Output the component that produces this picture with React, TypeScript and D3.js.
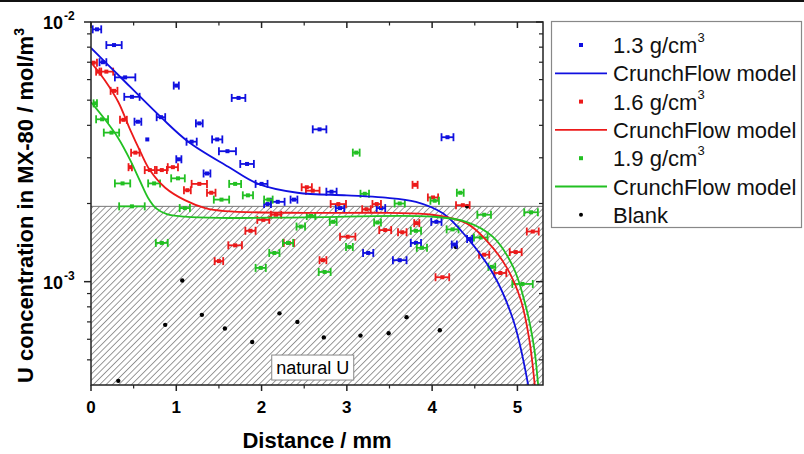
import React from 'react'
import * as d3 from 'd3'

// [distance mm, concentration mol/m3, x error mm]
const blue13: [number, number, number][] = [
  [0.07, 9.37e-3, 0.05], [0.27, 8.15e-3, 0.09], [0.14, 7.0e-3, 0.04], [0.4, 6.12e-3, 0.12],
  [0.48, 5.15e-3, 0.09], [1.0, 5.69e-3, 0.03], [1.73, 5.1e-3, 0.08], [0.55, 4.13e-3, 0.04],
  [0.82, 4.3e-3, 0.05], [1.27, 4.07e-3, 0.04], [0.66, 3.53e-3, 0], [1.18, 3.46e-3, 0.06],
  [1.48, 3.53e-3, 0.06], [1.6, 3.18e-3, 0.1], [1.03, 2.96e-3, 0.03], [1.83, 2.84e-3, 0.08],
  [1.36, 2.61e-3, 0.04], [2.0, 2.38e-3, 0.07], [2.19, 2.03e-3, 0.08], [2.07, 1.99e-3, 0.04],
  [2.38, 2.07e-3, 0.04], [2.68, 3.86e-3, 0.08], [4.18, 3.6e-3, 0.07], [2.82, 2.22e-3, 0.06],
  [2.92, 1.92e-3, 0.05], [3.4, 1.92e-3, 0.05], [4.05, 1.7e-3, 0.06], [3.81, 1.41e-3, 0.06],
  [4.26, 1.39e-3, 0.03], [4.44, 1.46e-3, 0.03], [3.25, 1.29e-3, 0.06], [3.62, 1.21e-3, 0.08],
]

const red16: [number, number, number][] = [
  [0.03, 6.97e-3, 0.04], [0.09, 6.44e-3, 0.03], [0.18, 6.44e-3, 0.08], [0.27, 5.43e-3, 0.04],
  [0.38, 4.2e-3, 0.04], [0.52, 3.14e-3, 0.05], [0.46, 2.76e-3, 0.02], [0.69, 2.69e-3, 0.06],
  [0.83, 2.69e-3, 0.06], [0.96, 2.76e-3, 0.06], [1.13, 2.25e-3, 0.04], [1.27, 2.38e-3, 0.09],
  [1.41, 2.2e-3, 0.05], [2.53, 2.31e-3, 0.06], [2.6, 2.24e-3, 0.08], [2.9, 1.99e-3, 0.09],
  [3.35, 1.99e-3, 0.05], [3.23, 1.9e-3, 0.05], [3.8, 2.36e-3, 0.03], [4.01, 2.11e-3, 0.06],
  [4.36, 1.97e-3, 0.08], [2.02, 1.73e-3, 0.07], [2.17, 1.81e-3, 0.06], [1.87, 1.57e-3, 0.06],
  [1.69, 1.38e-3, 0.08], [1.5, 1.2e-3, 0.05], [2.32, 1.41e-3, 0.06], [2.72, 1.21e-3, 0.04],
  [3.01, 1.49e-3, 0.09], [3.45, 1.58e-3, 0.07], [3.65, 1.55e-3, 0.05], [3.82, 1.68e-3, 0.03],
  [4.12, 1.04e-3, 0.08], [4.61, 1.27e-3, 0.06], [4.8, 1.08e-3, 0.07], [4.98, 1.3e-3, 0.07],
  [5.18, 1.56e-3, 0.07],
]

const green19: [number, number, number][] = [
  [0.05, 4.86e-3, 0.02], [0.13, 4.22e-3, 0.07], [0.24, 3.75e-3, 0.09], [0.37, 2.39e-3, 0.09],
  [0.74, 2.39e-3, 0.07], [1.02, 2.5e-3, 0.08], [1.69, 2.38e-3, 0.07], [1.84, 2.15e-3, 0.06],
  [1.53, 2.07e-3, 0.09], [2.08, 2.07e-3, 0.05], [0.48, 1.95e-3, 0.15], [0.83, 1.41e-3, 0.07],
  [1.1, 1.92e-3, 0.06], [2.15, 1.29e-3, 0.06], [2.31, 1.41e-3, 0.06], [2.46, 1.63e-3, 0.05],
  [2.58, 1.79e-3, 0.05], [1.99, 1.13e-3, 0.06], [2.74, 1.09e-3, 0.07], [2.84, 1.7e-3, 0.04],
  [3.03, 1.36e-3, 0.04], [3.36, 1.69e-3, 0.04], [3.81, 1.57e-3, 0.06], [3.88, 1.35e-3, 0.06],
  [4.24, 1.59e-3, 0.07], [4.57, 1.48e-3, 0.08], [4.7, 1.14e-3, 0.04], [4.61, 1.81e-3, 0.08],
  [5.06, 9.8e-4, 0.12], [5.16, 1.85e-3, 0.08], [3.11, 3.14e-3, 0.04], [3.21, 2.18e-3, 0.05],
  [4.33, 2.2e-3, 0.04], [4.03, 2.05e-3, 0.05], [3.62, 2.0e-3, 0.06],
]

const blank: [number, number][] = [
  [0.32, 4.15e-4], [0.87, 6.82e-4], [1.07, 1.01e-3], [1.3, 7.45e-4], [1.57, 6.6e-4],
  [1.89, 5.86e-4], [2.21, 7.55e-4], [2.42, 7.0e-4], [2.73, 6.1e-4], [3.16, 6.2e-4],
  [3.49, 6.33e-4], [3.7, 7.3e-4], [4.09, 6.5e-4], [4.28, 1.36e-3], [4.41, 1.95e-3],
]

// CrunchFlow model curves
const model13: [number, number][] = [
  [0, 7.94e-3], [0.32, 6.25e-3], [0.82, 4.3e-3], [1.14, 3.46e-3], [1.61, 2.77e-3],
  [1.96, 2.38e-3], [2.42, 2.2e-3], [3.0, 2.15e-3], [3.42, 2.11e-3], [3.81, 2.03e-3],
  [4.13, 1.83e-3], [4.4, 1.49e-3], [4.71, 1.08e-3], [4.95, 7.13e-4], [5.12, 4.1e-4], [5.15, 3.5e-4],
]
const model16: [number, number][] = [
  [0, 7.0e-3], [0.16, 5.98e-3], [0.32, 4.92e-3], [0.46, 3.84e-3], [0.58, 3.16e-3],
  [0.69, 2.69e-3], [0.87, 2.3e-3], [1.1, 2.06e-3], [1.34, 1.92e-3], [1.57, 1.87e-3],
  [2.5, 1.84e-3], [3.5, 1.84e-3], [4.0, 1.81e-3], [4.4, 1.68e-3], [4.63, 1.45e-3],
  [4.87, 1.14e-3], [5.04, 8.5e-4], [5.14, 5.97e-4], [5.2, 4.1e-4], [5.22, 3.5e-4],
]
const model19: [number, number][] = [
  [0, 4.92e-3], [0.16, 4.23e-3], [0.32, 3.57e-3], [0.46, 2.94e-3], [0.58, 2.42e-3],
  [0.67, 2.1e-3], [0.76, 1.92e-3], [0.89, 1.82e-3], [1.1, 1.78e-3], [1.5, 1.76e-3],
  [2.5, 1.77e-3], [4.0, 1.78e-3], [4.4, 1.7e-3], [4.71, 1.49e-3], [4.95, 1.14e-3],
  [5.1, 8.0e-4], [5.2, 5.45e-4], [5.24, 4.1e-4], [5.26, 3.5e-4],
]

const naturalU = 1.95e-3
const xTicks = [0, 1, 2, 3, 4, 5]
const yTicks = [1e-3, 1e-2]

const BLUE = '#1010e0'
const RED = '#ec1a1a'
const GREEN = '#22c022'
const FONT = '"Liberation Sans", Arial, sans-serif'

const left = 91, right = 543, top = 22, bottom = 385

export default function App() {
  const x = d3.scaleLinear().domain([0, 5.3]).range([left, right])
  const y = d3.scaleLog().domain([4e-4, 1e-2]).range([bottom, top])
  const line = d3.line<[number, number]>().x(d => x(d[0])).y(d => y(d[1])).curve(d3.curveCatmullRom.alpha(0.5))

  const minorX = d3.range(0.5, 5.3, 1)
  const minorY = [5e-4, 6e-4, 7e-4, 8e-4, 9e-4, 2e-3, 3e-3, 4e-3, 5e-3, 6e-3, 7e-3, 8e-3, 9e-3]

  const series = [
    { data: blue13, color: BLUE },
    { data: red16, color: RED },
    { data: green19, color: GREEN },
  ]

  const legend = [
    { type: 'pt', color: BLUE, label: '1.3 g/cm', sup: '3' },
    { type: 'ln', color: BLUE, label: 'CrunchFlow model' },
    { type: 'pt', color: RED, label: '1.6 g/cm', sup: '3' },
    { type: 'ln', color: RED, label: 'CrunchFlow model' },
    { type: 'pt', color: GREEN, label: '1.9 g/cm', sup: '3' },
    { type: 'ln', color: GREEN, label: 'CrunchFlow model' },
    { type: 'pt', color: '#000', label: 'Blank' },
  ]

  return (
    <svg width={804} height={454} style={{ position: 'absolute', left: 0, top: 0, background: '#fff' }} fontFamily={FONT}>
      <defs>
        <pattern id="hatch" width={4.5} height={4.5} patternUnits="userSpaceOnUse" patternTransform="rotate(45)">
          <line x1={0} y1={0} x2={0} y2={4.5} stroke="#555" strokeWidth={1.2} />
        </pattern>
        <clipPath id="plot">
          <rect x={left} y={top} width={right - left} height={bottom - top} />
        </clipPath>
      </defs>
      <rect x={0} y={0} width={804} height={2} fill="#111" />

      {/* natural U band */}
      <rect x={left} y={y(naturalU)} width={right - left} height={bottom - y(naturalU)} fill="#fff" />
      <rect x={left} y={y(naturalU)} width={right - left} height={bottom - y(naturalU)} fill="url(#hatch)" />
      <line x1={left} x2={right} y1={y(naturalU)} y2={y(naturalU)} stroke="#777" strokeWidth={1} />

      <g clipPath="url(#plot)">
        {blank.map((d, i) => (
          <circle key={'b' + i} cx={x(d[0])} cy={y(d[1])} r={2.2} fill="#000" />
        ))}
        {series.map((s, si) => (
          <g key={si} stroke={s.color} fill={s.color}>
            {s.data.map((d, i) => {
              const cx = x(d[0]), cy = y(d[1])
              const x0 = x(d[0] - d[2]), x1 = x(d[0] + d[2])
              return (
                <g key={i}>
                  {d[2] > 0 && (
                    <>
                      <line x1={x0} x2={x1} y1={cy} y2={cy} strokeWidth={1.8} />
                      <line x1={x0} x2={x0} y1={cy - 4} y2={cy + 4} strokeWidth={1.8} />
                      <line x1={x1} x2={x1} y1={cy - 4} y2={cy + 4} strokeWidth={1.8} />
                    </>
                  )}
                  <rect x={cx - 2} y={cy - 2} width={4} height={4} stroke="none" />
                </g>
              )
            })}
          </g>
        ))}
        <path d={line(model13) ?? ''} fill="none" stroke={BLUE} strokeWidth={1.8} />
        <path d={line(model16) ?? ''} fill="none" stroke={RED} strokeWidth={1.8} />
        <path d={line(model19) ?? ''} fill="none" stroke={GREEN} strokeWidth={1.8} />
      </g>

      {/* natural U label */}
      <g transform={`translate(${x(2.6)},${y(4.67e-4)})`}>
        <rect x={-41} y={-12.5} width={82} height={25} fill="#fff" stroke="#888" strokeWidth={1} />
        <text textAnchor="middle" dy={6} fontSize={18}>natural U</text>
      </g>

      {/* frame */}
      <rect x={left} y={top} width={right - left} height={bottom - top} fill="none" stroke="#222" strokeWidth={1.5} />

      {/* x ticks */}
      {xTicks.map(t => (
        <g key={'xt' + t}>
          <line x1={x(t)} x2={x(t)} y1={bottom} y2={bottom + 6} stroke="#222" strokeWidth={1.5} />
          <line x1={x(t)} x2={x(t)} y1={top} y2={top + 6} stroke="#222" strokeWidth={1.5} />
          <text x={x(t)} y={bottom + 28} textAnchor="middle" fontSize={17} fontWeight="bold">{t}</text>
        </g>
      ))}
      {minorX.map(t => (
        <g key={'xm' + t}>
          <line x1={x(t)} x2={x(t)} y1={bottom} y2={bottom + 3.5} stroke="#222" strokeWidth={1.2} />
          <line x1={x(t)} x2={x(t)} y1={top} y2={top + 3.5} stroke="#222" strokeWidth={1.2} />
        </g>
      ))}

      {/* y ticks */}
      {yTicks.map((t, i) => (
        <g key={'yt' + t}>
          <line x1={left - 7} x2={left} y1={y(t)} y2={y(t)} stroke="#222" strokeWidth={1.5} />
          <line x1={right - 7} x2={right} y1={y(t)} y2={y(t)} stroke="#222" strokeWidth={1.5} />
          <text x={63} y={y(t) + 7} textAnchor="end" fontSize={18} fontWeight="bold">10</text>
          <text x={64} y={y(t) - 2} fontSize={12} fontWeight="bold">{i === 0 ? '-3' : '-2'}</text>
        </g>
      ))}
      {minorY.map(t => (
        <g key={'ym' + t}>
          <line x1={left - 4} x2={left} y1={y(t)} y2={y(t)} stroke="#222" strokeWidth={1.2} />
          <line x1={right - 4} x2={right} y1={y(t)} y2={y(t)} stroke="#222" strokeWidth={1.2} />
        </g>
      ))}

      {/* axis titles */}
      <text x={(left + right) / 2} y={448} textAnchor="middle" fontSize={22} fontWeight="bold">Distance / mm</text>
      <text transform={`translate(33,${(top + bottom) / 2 + 2}) rotate(-90)`} textAnchor="middle" fontSize={22} fontWeight="bold">
        U concentration in MX-80 / mol/m<tspan dy={-9} fontSize={14}>3</tspan>
      </text>

      {/* legend */}
      <rect x={551.5} y={21.5} width={250} height={206} fill="#fff" stroke="#888" strokeWidth={1.2} />
      {legend.map((l, i) => {
        const ly = 45 + i * 28.3
        return (
          <g key={'lg' + i}>
            {l.type === 'pt' ? (
              l.color === '#000'
                ? <circle cx={581} cy={ly} r={2} fill="#000" />
                : <rect x={579} y={ly - 2} width={4} height={4} fill={l.color} />
            ) : (
              <line x1={555} x2={607} y1={ly} y2={ly} stroke={l.color} strokeWidth={1.8} />
            )}
            <text x={613} y={ly + 8} fontSize={22} fill="#111">
              {l.label}
              {l.sup && <tspan dy={-11} fontSize={13}>{l.sup}</tspan>}
            </text>
          </g>
        )
      })}
    </svg>
  )
}
